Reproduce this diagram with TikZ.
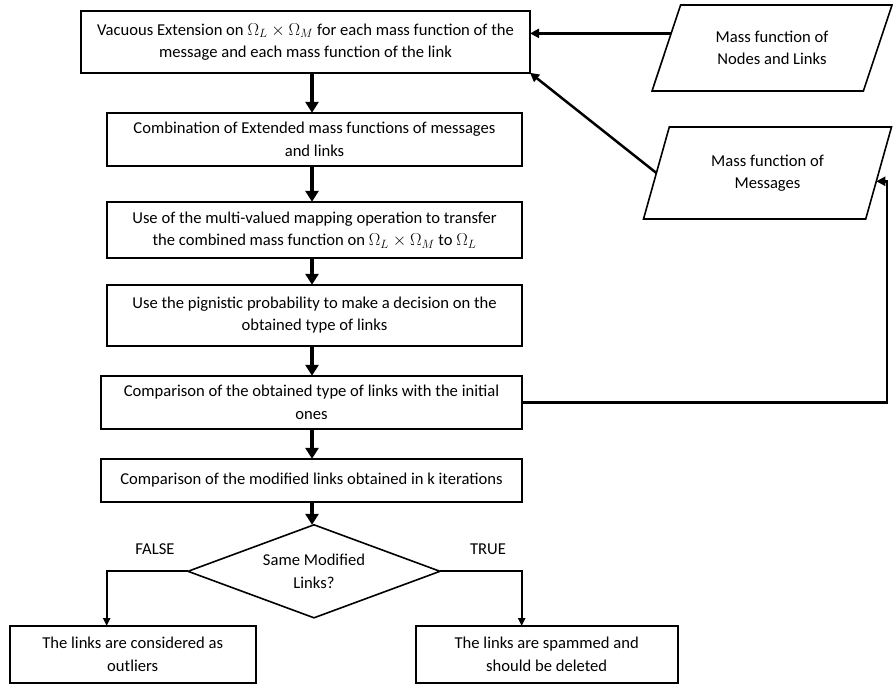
\documentclass[tikz,border=0pt]{standalone}
\usepackage{fontspec}
\setmainfont{Carlito}
\usetikzlibrary{calc,positioning}
\usetikzlibrary{shapes.geometric}
\usetikzlibrary{arrows.meta}

\begin{document}
\begin{tikzpicture}[x=1pt, y=-1pt,
  >={Triangle[width=13pt,length=11pt]},
  every node/.style={font=\fontsize{16.6}{22.5}\selectfont},
  box/.style={draw, line width=1.6pt, align=center, inner sep=0pt, outer sep=0pt},
  data/.style={draw, line width=1.6pt, align=center, inner sep=0pt, outer sep=0pt, trapezium,
    trapezium left angle=55, trapezium right angle=125, trapezium stretches body},
  decision/.style={draw, line width=1.6pt, align=center, inner sep=0pt, outer sep=0pt, diamond,
    aspect=2.7, minimum width=252pt, minimum height=93pt},
  flow/.style={->, line width=3.5pt},
  side/.style={-{Triangle[width=9pt,length=9pt]}, line width=2.5pt},
  branch/.style={-{Triangle[width=7pt,length=8pt]}, line width=2pt}]
  \useasboundingbox (0,0) rectangle (893,689);

  % main column
  \node[box, minimum width=449pt, minimum height=62pt] (ext) at (305.5,41.8)
    {Vacuous Extension on $\Omega_L \times \Omega_M$ for each mass function of the\\ message and each mass function of the link};
  \node[box, minimum width=415pt, minimum height=53pt, below=40pt of ext, xshift=9pt] (comb)
    {Combination of Extended mass functions of messages\\ and links};
  \node[box, minimum width=415pt, minimum height=56pt, below=36pt of comb] (map)
    {Use of the multi-valued mapping operation to transfer\\ the combined mass function on $\Omega_L \times \Omega_M$ to $\Omega_L$};
  \node[box, minimum width=415pt, minimum height=61pt, below=27pt of map] (pign)
    {Use the pignistic probability to make a decision on the\\ obtained type of links};
  \node[box, minimum width=421pt, minimum height=53pt, below=30pt of pign, xshift=-3pt] (cmpinit)
    {Comparison of the obtained type of links with the initial\\ ones};
  \node[box, minimum width=421pt, minimum height=43pt, below=30pt of cmpinit] (cmpk)
    {Comparison of the modified links obtained in k iterations};
  \node[decision, below=23pt of cmpk, xshift=2.5pt] (same) {Same Modified\\ Links?};

  % outcomes
  \node[box, minimum width=246pt, minimum height=57pt] (outl) at (132.7,654.5)
    {The links are considered as\\ outliers};
  \node[box, minimum width=262pt, minimum height=57pt] (spam) at (546.7,654.5)
    {The links are spammed and\\ should be deleted};
  \node (lfalse) at (155,549) {FALSE};
  \node (ltrue) at (488,549) {TRUE};

  % inputs
  \node[data, trapezium left angle=50, trapezium right angle=130,
    minimum width=240pt, minimum height=86pt] (mnl) at (772,48)
    {Mass function of\\ Nodes and Links};
  \node[data, minimum width=248pt, minimum height=92pt] (mmsg) at (767.5,173)
    {Mass function of\\ Messages};

  \coordinate (axis) at (312,0);
  \draw[flow] (ext.south -| axis) -- (comb.north -| axis);
  \draw[flow] (comb.south -| axis) -- (map.north -| axis);
  \draw[flow] (map.south -| axis) -- (pign.north -| axis);
  \draw[flow] (pign.south -| axis) -- (cmpinit.north -| axis);
  \draw[flow] (cmpinit.south -| axis) -- (cmpk.north -| axis);
  \draw[flow] (cmpk.south -| axis) -- (same.north -| axis);

  \coordinate (mnlout) at ($(mnl.top left corner)!0.33!(mnl.bottom left corner)$);
  \draw[side] (mnlout) -- (mnlout -| ext.east);
  \draw[side] (mmsg.left side) -- (ext.south east);
  \coordinate (fbin) at ($(mmsg.top right corner)!0.59!(mmsg.bottom right corner)$);
  \coordinate (fbturn) at (887,0);
  \draw[side] (cmpinit.east) -| (fbin -| fbturn) -- (fbin);

  \draw[branch] (same.west) -| ([xshift=-26pt]outl.north);
  \draw[branch] (same.east) -| ([xshift=-25pt]spam.north);
\end{tikzpicture}
\end{document}
